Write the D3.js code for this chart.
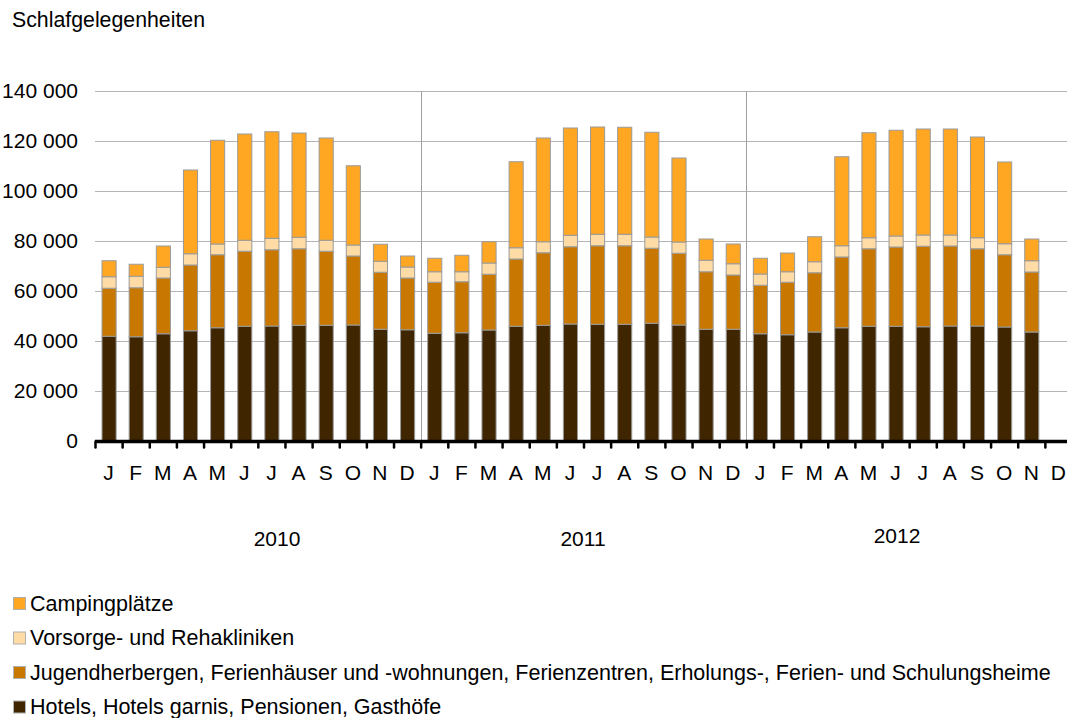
<!DOCTYPE html>
<html>
<head>
<meta charset="utf-8">
<script src="https://cdn.jsdelivr.net/npm/d3@7"></script>
<style>
  body { margin: 0; background: #fff; }
  svg { display: block; font-family: "Liberation Sans", Arial, sans-serif; }
</style>
</head>
<body>
<div id="chart"></div>
<script>
const years = ["2010", "2011", "2012"];
const monthLabels = ["J", "F", "M", "A", "M", "J", "J", "A", "S", "O", "N", "D"];
const yTicks = [0, 20000, 40000, 60000, 80000, 100000, 120000, 140000];

const seriesNames = [
  "Hotels, Hotels garnis, Pensionen, Gasthöfe",
  "Jugendherbergen, Ferienhäuser und -wohnungen, Ferienzentren, Erholungs-, Ferien- und Schulungsheime",
  "Vorsorge- und Rehakliniken",
  "Campingplätze"
];

// values in thousand beds, 36 months (Dec 2012 missing)
const hotels = [
  41.9, 41.7, 42.9, 44.1, 45.3, 45.9, 46.0, 46.3, 46.3, 46.4, 44.7, 44.5,
  43.1, 43.3, 44.4, 45.9, 46.3, 46.8, 46.7, 46.7, 47.1, 46.4, 44.7, 44.7,
  42.9, 42.5, 43.6, 45.3, 45.9, 45.9, 45.7, 46.0, 46.0, 45.6, 43.6, null
];
const jugend = [
  19.2, 19.6, 22.3, 26.3, 29.2, 30.0, 30.5, 30.6, 29.6, 27.6, 22.8, 20.7,
  20.4, 20.4, 22.3, 26.9, 29.0, 30.9, 31.4, 31.4, 30.0, 28.7, 23.0, 21.7,
  19.4, 21.0, 23.7, 28.3, 31.0, 31.7, 32.2, 32.0, 30.9, 28.9, 24.0, null
];
const vorsorge = [
  4.6, 4.6, 4.3, 4.5, 4.3, 4.4, 4.6, 4.6, 4.4, 4.4, 4.4, 4.4,
  4.2, 4.0, 4.5, 4.5, 4.4, 4.6, 4.6, 4.6, 4.5, 4.5, 4.6, 4.5,
  4.5, 4.2, 4.4, 4.5, 4.4, 4.4, 4.5, 4.4, 4.4, 4.4, 4.5, null
];
const camping = [
  6.4, 4.8, 8.5, 33.5, 41.5, 42.5, 42.6, 41.7, 40.9, 31.7, 6.8, 4.4,
  5.4, 6.6, 8.5, 34.4, 41.5, 42.9, 42.9, 42.8, 41.9, 33.6, 8.5, 7.9,
  6.3, 7.5, 10.0, 35.6, 42.0, 42.3, 42.4, 42.4, 40.3, 32.7, 8.7, null
];

const colors = ["#3f2600", "#c87800", "#ffdba5", "#ffa623"];

const width = 1067, height = 718;
const fontSize = "21px";
const svg = d3.select("#chart")
              .append("svg")
              .attr("width", width)
              .attr("height", height);

const keys = years.flatMap(y => monthLabels.map((m, i) => `${y}-${i}`));
const table = keys.map((k, i) => ({
  key: k,
  month: monthLabels[i % 12],
  s0: hotels[i] == null ? null : hotels[i] * 1000,
  s1: jugend[i] == null ? null : jugend[i] * 1000,
  s2: vorsorge[i] == null ? null : vorsorge[i] * 1000,
  s3: camping[i] == null ? null : camping[i] * 1000
}));

const xScale = d3.scaleBand()
                 .domain(keys)
                 .range([95, 1072])
                 .paddingInner(0.48)
                 .paddingOuter(0.24);

const yScale = d3.scaleLinear()
                 .domain([0, 140000])
                 .range([441, 91]);

// title
svg.append("text")
   .text("Schlafgelegenheiten")
   .attr("x", 12)
   .attr("y", 27)
   .style("font-size", "21.3px")
   .attr("fill", "#000");

// gridlines
svg.append("g")
   .selectAll("line")
   .data(yTicks.filter(d => d > 0))
   .join("line")
   .attr("x1", 95)
   .attr("x2", width)
   .attr("y1", d => Math.round(yScale(d)) + 0.5)
   .attr("y2", d => Math.round(yScale(d)) + 0.5)
   .attr("stroke", "#b4b4b4")
   .attr("stroke-width", 1);

// year separators
const band = xScale.step();
svg.append("g")
   .selectAll("line")
   .data(years.slice(1))
   .join("line")
   .attr("x1", (d, i) => Math.round(95 + (i + 1) * 12 * band) + 0.5)
   .attr("x2", (d, i) => Math.round(95 + (i + 1) * 12 * band) + 0.5)
   .attr("y1", yScale(140000))
   .attr("y2", yScale(0))
   .attr("stroke", "#a0a0a0")
   .attr("stroke-width", 1);

// y labels
svg.append("g")
   .selectAll("text")
   .data(yTicks)
   .join("text")
   .text(d => d3.format(",")(d).replace(/,/g, " "))
   .attr("x", 78)
   .attr("y", d => yScale(d))
   .attr("dy", "0.35em")
   .attr("text-anchor", "end")
   .style("font-size", fontSize)
   .attr("fill", "#000");

// stacked bars
const stack = d3.stack().keys(["s0", "s1", "s2", "s3"]).value((d, k) => d[k] || 0);
const stacked = stack(table.filter(d => d.s0 != null));

svg.append("g")
   .selectAll("g")
   .data(stacked)
   .join("g")
   .attr("fill", (d, i) => colors[i])
   .selectAll("rect")
   .data(d => d)
   .join("rect")
   .attr("x", d => xScale(d.data.key) + 0.5)
   .attr("width", xScale.bandwidth())
   .attr("y", d => yScale(d[1]))
   .attr("height", d => yScale(d[0]) - yScale(d[1]))
   .attr("stroke", "#9a9a9a")
   .attr("stroke-width", 1);

// x axis line and ticks
const axisY = yScale(0) + 0.5;
svg.append("line")
   .attr("x1", 95)
   .attr("x2", width)
   .attr("y1", axisY)
   .attr("y2", axisY)
   .attr("stroke", "#000")
   .attr("stroke-width", 3.5);

svg.append("g")
   .selectAll("line")
   .data(d3.range(keys.length))
   .join("line")
   .attr("x1", i => 95.5 + i * band)
   .attr("x2", i => 95.5 + i * band)
   .attr("y1", axisY)
   .attr("y2", axisY + 6)
   .attr("stroke", "#000")
   .attr("stroke-width", 2.5)
   .attr("stroke-linecap", "round");

// month labels
svg.append("g")
   .selectAll("text")
   .data(table)
   .join("text")
   .text(d => d.month)
   .attr("x", d => xScale(d.key) + xScale.bandwidth() / 2)
   .attr("y", 480)
   .attr("text-anchor", "middle")
   .style("font-size", fontSize)
   .attr("fill", "#000");

// year labels
const yearX = [277, 583, 897];
svg.append("g")
   .selectAll("text")
   .data(years)
   .join("text")
   .text(d => d)
   .attr("x", (d, i) => yearX[i])
   .attr("y", (d, i) => i === 2 ? 543 : 546)
   .attr("text-anchor", "middle")
   .style("font-size", fontSize)
   .attr("fill", "#000");

// legend (reverse order)
const legend = svg.append("g")
                  .selectAll("g")
                  .data(seriesNames.map((n, i) => ({ name: n, color: colors[i] })).reverse())
                  .join("g")
                  .attr("transform", (d, i) => `translate(13, ${603 + i * 34.5})`);

legend.append("rect")
      .attr("x", 0.5)
      .attr("y", -5.5)
      .attr("width", 12)
      .attr("height", 12)
      .attr("fill", d => d.color)
      .attr("stroke", "#b0b0b0")
      .attr("stroke-width", 1);

legend.append("text")
      .text(d => d.name)
      .attr("x", 17)
      .attr("y", 0)
      .attr("dy", "0.35em")
      .style("font-size", "21.5px")
      .attr("fill", "#000");
</script>
</body>
</html>
